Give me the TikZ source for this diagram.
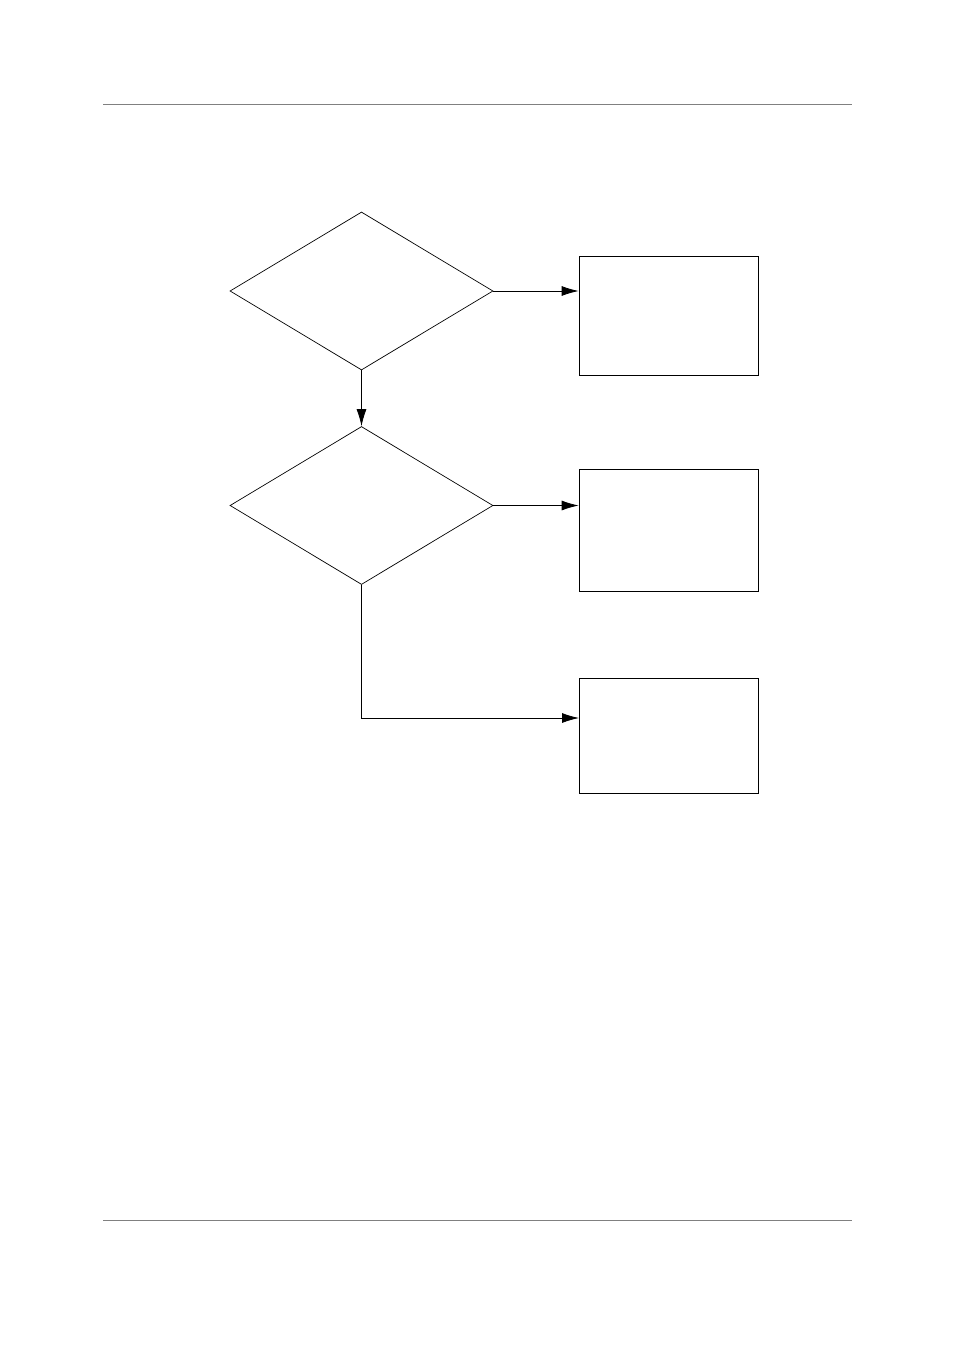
\documentclass[tikz,border=0pt]{standalone}
\usetikzlibrary{shapes.geometric,arrows.meta}
\begin{document}
\begin{tikzpicture}[x=1pt,y=-1pt,
  dec/.style={draw,shape=diamond,minimum width=263pt,minimum height=158pt,inner sep=0pt,line width=0.7pt},
  box/.style={draw,rectangle,minimum width=179pt,inner sep=0pt,line width=0.8pt},
  conn/.style={draw,line width=0.8pt,-{Latex[length=17pt,width=10pt]}},
  rule/.style={draw=black!50,line width=0.8pt}]
\useasboundingbox (0,0) rectangle (954,1351);
\coordinate (h1) at (103,104);
\coordinate (h2) at (852,104);
\coordinate (f1) at (103,1220);
\coordinate (f2) at (852,1220);
\draw[rule] (h1) -- (h2);
\draw[rule] (f1) -- (f2);
\node[dec] (d1) at (361.5,291) {};
\node[dec] (d2) at (361.5,505.5) {};
\node[box,minimum height=119pt] (b1) at (668.5,315.5) {};
\node[box,minimum height=122pt] (b2) at (668.5,530) {};
\node[box,minimum height=115pt] (b3) at (668.5,735.5) {};
\coordinate (c3) at (579,718);
\draw[conn] (d1.east) -- (d1.east -| b1.west);
\draw[conn] (d1.south) -- (d2.north);
\draw[conn] (d2.east) -- (d2.east -| b2.west);
\draw[conn] (d2.south) |- (c3);
\end{tikzpicture}
\end{document}
